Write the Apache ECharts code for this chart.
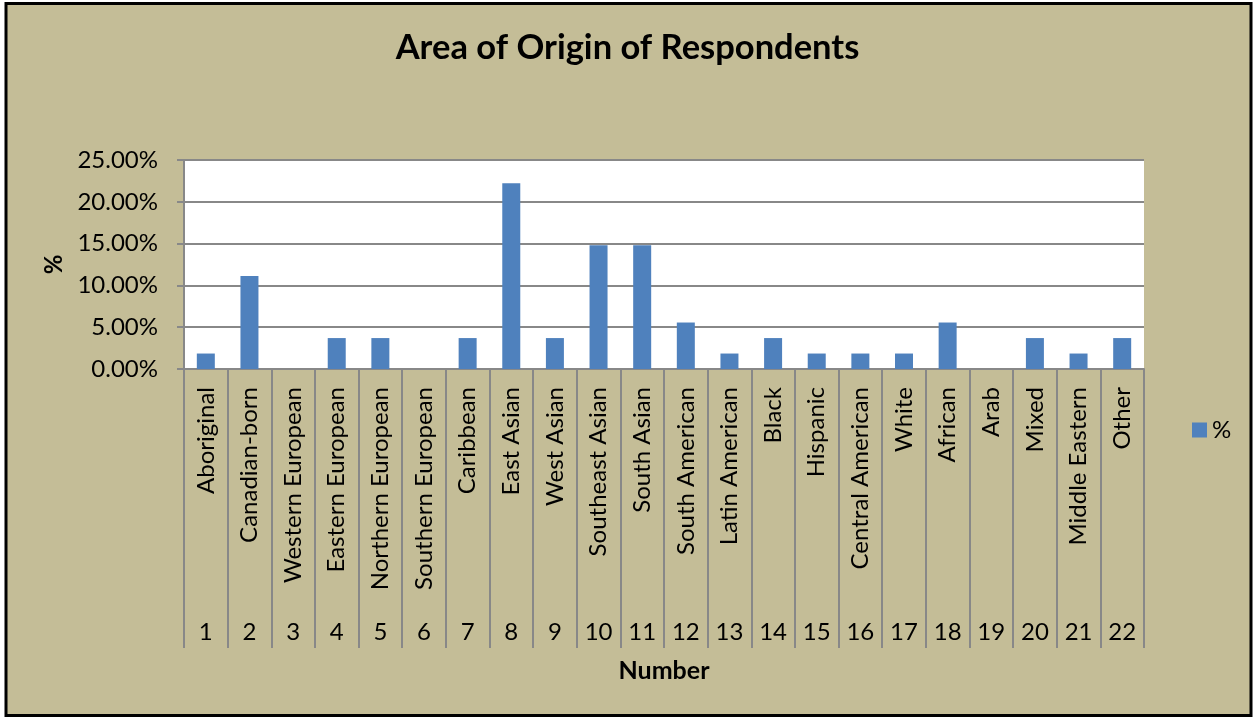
<!DOCTYPE html>
<html>
<head>
<meta charset="utf-8">
<script src="https://cdn.jsdelivr.net/npm/echarts@6/dist/echarts.min.js"></script>
<style>
html,body{margin:0;padding:0;background:#ffffff;}
#chart{width:1255px;height:719px;}
</style>
</head>
<body>
<div id="chart"></div>
<script>
const categories = ["Aboriginal","Canadian-born","Western European","Eastern European","Northern European","Southern European","Caribbean","East Asian","West Asian","Southeast Asian","South Asian","South American","Latin American","Black","Hispanic","Central American","White","African","Arab","Mixed","Middle Eastern","Other"];
const numbers = ["1","2","3","4","5","6","7","8","9","10","11","12","13","14","15","16","17","18","19","20","21","22"];
const percentValues = [0.0185,0.1111,0,0.037,0.037,0,0.037,0.2222,0.037,0.1481,0.1481,0.0556,0.0185,0.037,0.0185,0.0185,0.0185,0.0556,0,0.037,0.0185,0.037];
const yTicks = {min:0, max:0.25, interval:0.05};

const FONT = 'Lato';
const chart = echarts.init(document.getElementById('chart'));
chart.setOption({
  animation:false,
  textStyle:{fontFamily:FONT},
  graphic:[{
    type:'rect', z:-10, silent:true,
    shape:{x:6, y:3.5, width:1245, height:712},
    style:{fill:'#c4bd97', stroke:'#000000', lineWidth:3}
  }],
  title:{
    text:'Area of Origin of Respondents',
    left:'center', top:25,
    textStyle:{fontFamily:FONT, fontWeight:'bold', fontSize:34.5, color:'#000'}
  },
  legend:{
    data:['%'], left:1187, top:413, itemWidth:15, itemHeight:15, itemGap:6,
    textStyle:{fontFamily:FONT, fontSize:24, color:'#000'},
    icon:'rect'
  },
  grid:{left:184, right:111, top:160, bottom:350, show:true, backgroundColor:'#ffffff', borderWidth:0},
  xAxis:[{
    type:'category', data:categories, position:'bottom',
    name:'Number', nameLocation:'middle', nameGap:289,
    nameTextStyle:{fontFamily:FONT, fontWeight:'bold', fontSize:25, color:'#000'},
    axisLine:{lineStyle:{color:'#888888', width:2}},
    axisTick:{show:true, length:229, lineStyle:{color:'#888888', width:2}},
    axisLabel:{rotate:90, margin:18, fontFamily:FONT, fontSize:24, color:'#000'}
  },{
    type:'category', data:numbers, position:'bottom', offset:229,
    axisLine:{show:false},
    axisTick:{show:true, length:50, inside:false, lineStyle:{color:'#888888', width:2}},
    axisLabel:{margin:22, fontFamily:FONT, fontSize:24, color:'#000'}
  }],
  yAxis:{
    type:'value', min:yTicks.min, max:yTicks.max, interval:yTicks.interval,
    name:'%', nameLocation:'middle', nameGap:113, nameRotate:90,
    nameTextStyle:{fontFamily:FONT, fontWeight:'bold', fontSize:24, color:'#000'},
    axisLine:{show:true, lineStyle:{color:'#888888', width:2}},
    axisTick:{show:true, length:7, lineStyle:{color:'#888888', width:2}},
    splitLine:{lineStyle:{color:'#888888', width:2}},
    axisLabel:{margin:26, fontFamily:FONT, fontSize:24, color:'#000',
      formatter:v=>(v*100).toFixed(2)+'%'}
  },
  series:[{
    name:'%', type:'bar', data:percentValues, barWidth:18, xAxisIndex:0,
    itemStyle:{color:'#4f81bd'}
  }]
});
</script>
</body>
</html>
